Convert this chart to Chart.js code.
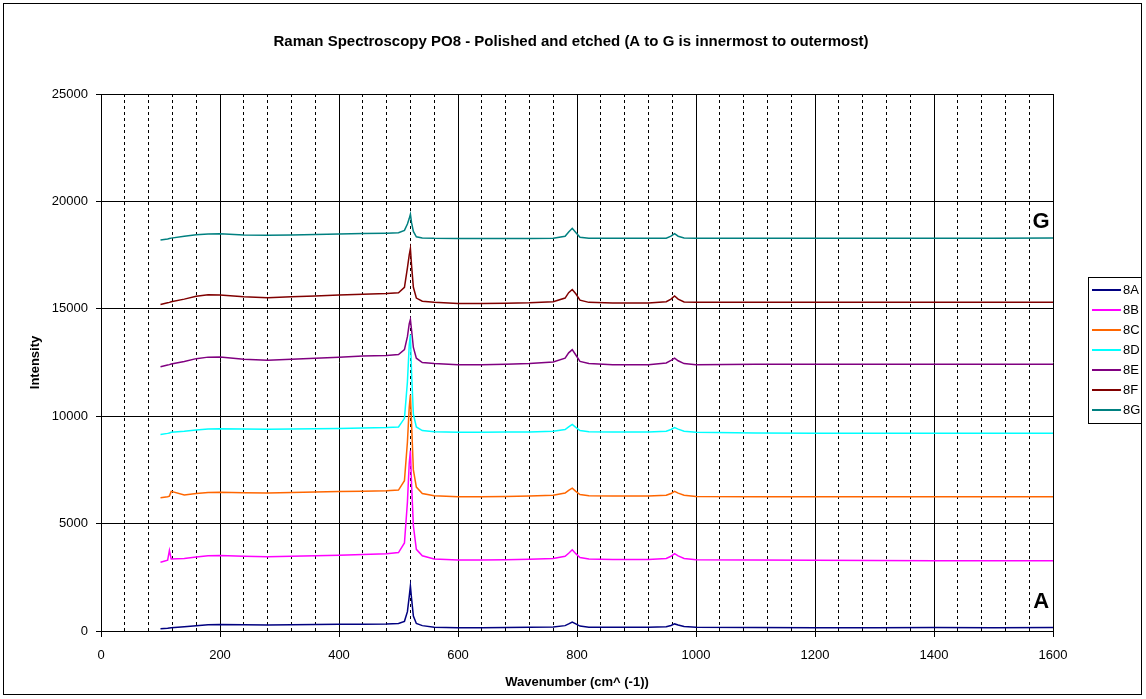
<!DOCTYPE html>
<html>
<head>
<meta charset="utf-8">
<script src="https://cdn.jsdelivr.net/npm/chart.js@4.4.0/dist/chart.umd.min.js"></script>
<style>
  html, body { margin: 0; padding: 0; background: #fff; }
  #wrap { width: 1146px; height: 699px; position: relative; }
</style>
</head>
<body>
<div id="wrap"><canvas id="ramanChart"></canvas></div>
<script>
// wavenumber (cm^-1) sample positions shared by all spectra
const wavenumbers = [100,112,115,118,140,160,180,200,240,280,320,360,400,440,480,500,510,515,518,520,522,525,530,540,560,600,640,680,720,760,780,786,792,798,805,820,860,920,950,958,964,970,980,1000,1100,1200,1300,1400,1500,1600];

const s8A = [100,130,140,150,200,250,290,300,290,280,290,300,310,320,330,350,450,900,1600,2100,1500,700,350,250,180,150,150,160,170,190,250,330,420,330,230,180,170,170,200,260,330,280,210,170,160,150,150,160,150,160];
const s8B = [3200,3300,3750,3350,3380,3450,3500,3520,3480,3460,3480,3500,3530,3560,3600,3650,4100,6000,7800,8400,6800,4900,3800,3500,3350,3300,3300,3320,3340,3380,3480,3620,3780,3600,3420,3350,3330,3330,3380,3480,3600,3500,3380,3320,3300,3290,3280,3270,3270,3270];
const s8C = [6200,6250,6280,6500,6330,6400,6450,6460,6440,6430,6450,6470,6490,6510,6530,6560,7000,8800,10400,11000,9600,7500,6700,6400,6300,6250,6250,6260,6280,6320,6420,6550,6650,6500,6350,6300,6280,6280,6320,6400,6500,6420,6320,6260,6250,6250,6250,6250,6250,6250];
const s8D = [9150,9200,9220,9250,9300,9360,9400,9420,9400,9390,9400,9410,9430,9450,9470,9500,9900,11600,13300,13800,12000,10100,9500,9330,9280,9250,9250,9260,9270,9300,9380,9500,9620,9480,9330,9280,9260,9260,9300,9380,9470,9400,9300,9250,9220,9210,9210,9210,9210,9210];
const s8E = [12300,12380,12400,12430,12550,12680,12750,12760,12650,12600,12650,12700,12750,12800,12830,12870,13100,13700,14300,14500,14000,13200,12700,12500,12450,12400,12400,12420,12450,12520,12700,12950,13100,12850,12550,12450,12400,12400,12480,12600,12700,12580,12450,12400,12420,12420,12420,12420,12420,12420];
const s8F = [15200,15280,15300,15330,15450,15580,15650,15640,15560,15520,15560,15600,15640,15680,15710,15750,16000,16900,17500,17800,17000,16000,15500,15350,15300,15250,15250,15260,15280,15330,15500,15750,15900,15700,15400,15300,15270,15270,15330,15450,15600,15450,15320,15300,15300,15300,15300,15310,15310,15310];
const s8G = [18200,18250,18270,18290,18380,18450,18480,18490,18440,18420,18440,18460,18480,18500,18520,18540,18650,18950,19200,19400,19000,18600,18350,18300,18280,18270,18270,18270,18270,18290,18380,18580,18750,18550,18330,18290,18280,18280,18290,18380,18500,18380,18300,18290,18290,18290,18290,18290,18290,18300];

const seriesNames = ['8A', '8B', '8C', '8D', '8E', '8F', '8G'];
const seriesValues = [s8A, s8B, s8C, s8D, s8E, s8F, s8G];
const seriesColors = ['#000080', '#FF00FF', '#FF6600', '#00FFFF', '#800080', '#800000', '#008080'];

// big letters marking outermost / innermost traces
const markLabels = ['G', 'A'];
const markX = [1580, 1580];
const markY = [19050, 1350];

const titleText = 'Raman Spectroscopy PO8 - Polished and etched (A to G is innermost to outermost)';
const FONT = '"Liberation Sans", Arial, sans-serif';

const datasets = seriesNames.map((name, i) => ({
  label: name,
  data: wavenumbers.map((w, j) => ({ x: w, y: seriesValues[i][j] })),
  borderColor: seriesColors[i],
  backgroundColor: seriesColors[i],
  borderWidth: 1.5,
  pointRadius: 0,
  tension: 0,
  xAxisID: 'x',
  yAxisID: 'y'
}));

const decor = {
  id: 'decor',
  afterDraw(chart) {
    const c = chart.ctx;
    c.save();
    // outer frame
    c.strokeStyle = '#000';
    c.lineWidth = 1;
    c.strokeRect(3.5, 3.5, 1138, 691);

    // title
    c.fillStyle = '#000';
    c.font = 'bold 15px ' + FONT;
    c.textAlign = 'center';
    c.textBaseline = 'middle';
    c.fillText(titleText, 571, 42);

    // G / A markers
    const xs = chart.scales.x, ys = chart.scales.y;
    c.font = 'bold 22px ' + FONT;
    markLabels.forEach((t, i) => {
      c.fillText(t, xs.getPixelForValue(markX[i]), ys.getPixelForValue(markY[i]));
    });

    // legend box
    const lx = 1088, ly = 277, step = 20;
    c.fillStyle = '#fff';
    c.fillRect(lx, ly, 53, step * seriesNames.length + 6);
    c.strokeStyle = '#000';
    c.strokeRect(lx + 0.5, ly + 0.5, 53, step * seriesNames.length + 6);
    c.font = '13px ' + FONT;
    c.textAlign = 'left';
    chart.data.datasets.forEach((ds, i) => {
      const yy = ly + 13 + i * step;
      c.strokeStyle = ds.borderColor;
      c.lineWidth = 2;
      c.beginPath();
      c.moveTo(lx + 4, yy);
      c.lineTo(lx + 33, yy);
      c.stroke();
      c.fillStyle = '#000';
      c.fillText(ds.label, lx + 35, yy);
    });
    c.restore();
  }
};

const plainNum = v => String(v);

const ctx = document.getElementById('ramanChart').getContext('2d');
new Chart(ctx, {
  type: 'line',
  data: { datasets },
  options: {
    responsive: true,
    maintainAspectRatio: false,
    animation: false,
    layout: { padding: { top: 94, right: 93, bottom: 5, left: 24 } },
    plugins: { legend: { display: false }, title: { display: false }, tooltip: { enabled: false } },
    scales: {
      xMinor: {
        type: 'linear', position: 'bottom', min: 0, max: 1600,
        ticks: { display: false, stepSize: 40 },
        grid: {
          drawTicks: false,
          color: c => (c.tick && c.tick.value % 200 === 0) ? 'rgba(0,0,0,0)' : '#000',
          lineWidth: 1
        },
        border: { display: false, dash: [3, 3] },
        afterFit: s => { s.height = 0; }
      },
      x: {
        type: 'linear', position: 'bottom', min: 0, max: 1600,
        ticks: { stepSize: 200, color: '#000', font: { family: FONT, size: 13 }, padding: 11, maxRotation: 0, callback: plainNum },
        grid: { color: '#000', lineWidth: 1, tickLength: 6 },
        border: { color: '#000' },
        title: { display: true, text: 'Wavenumber (cm^ (-1))', color: '#000', font: { family: FONT, size: 13, weight: 'bold' } },
        afterFit: s => { s.height = 63; }
      },
      y: {
        type: 'linear', min: 0, max: 25000,
        ticks: { stepSize: 5000, color: '#000', font: { family: FONT, size: 13 }, padding: 8, callback: plainNum },
        grid: { color: '#000', lineWidth: 1, tickLength: 5 },
        border: { color: '#000' },
        title: { display: true, text: 'Intensity', color: '#000', font: { family: FONT, size: 13, weight: 'bold' } },
        afterFit: s => { s.width = 77; }
      }
    }
  },
  plugins: [decor]
});
</script>
</body>
</html>
